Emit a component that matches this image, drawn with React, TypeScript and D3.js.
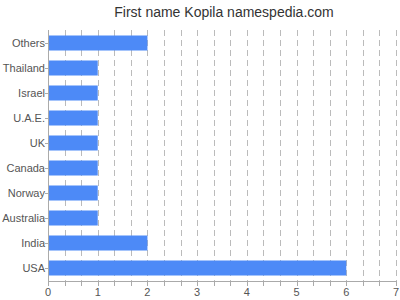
import React from 'react'
import * as d3 from 'd3'

const countries: string[] = ['Others', 'Thailand', 'Israel', 'U.A.E.', 'UK', 'Canada', 'Norway', 'Australia', 'India', 'USA']
const counts: number[] = [2, 1, 1, 1, 1, 1, 1, 1, 2, 6]
const xTicks: number[] = [0, 1, 2, 3, 4, 5, 6, 7]
const title = 'First name Kopila namespedia.com'

const width = 400
const height = 300
const left = 48
const right = 396
const top = 30.5
const bottom = 280.5
const font = 'Liberation Sans, Arial, sans-serif'

/**
 * Horizontal bar chart of name counts by country
 */
const App = () => {
    const x = d3.scaleLinear().domain([0, 7]).range([left, right])
    const y = d3.scaleBand<string>().domain(countries).range([top, bottom]).paddingInner(0.4).paddingOuter(0.2)
    // grid every third of a unit
    const grid = d3.range(1, 22).map((i) => i / 3)

    return (
        <svg width={width} height={height} style={{ position: 'absolute', left: 0, top: 0 }}>
            <rect width={width} height={height} fill='#fff' />
            <text x={224} y={17} textAnchor='middle' fontFamily={font} fontSize={14} fill='#333'>{title}</text>

            {grid.map((g, i) => (
                <line key={i} x1={Math.round(x(g)) + 0.5} x2={Math.round(x(g)) + 0.5} y1={30} y2={281}
                    stroke='#bbb' strokeDasharray='6,4' />
            ))}

            {countries.map((c, i) => (
                <rect key={c} x={left + 1} y={y(c)} width={x(counts[i]) - left - 1} height={y.bandwidth()} fill='#4d8af7' />
            ))}

            {/* y axis */}
            <line x1={left + 0.5} x2={left + 0.5} y1={30} y2={281.5} stroke='#aaa' />
            {countries.map((c) => (
                <g key={c} transform={`translate(0, ${y(c)! + y.bandwidth() / 2})`}>
                    <line x1={left - 3} x2={left} y1={0.5} y2={0.5} stroke='#aaa' />
                    <text x={left - 3} dy='0.35em' textAnchor='end' fontFamily={font} fontSize={11} fill='#555'>{c}</text>
                </g>
            ))}

            {/* x axis */}
            <line x1={left} x2={right + 1} y1={281.5} y2={281.5} stroke='#aaa' />
            {[0, ...grid].map((g, i) => (
                <line key={i} x1={Math.round(x(g)) + 0.5} x2={Math.round(x(g)) + 0.5} y1={281.5} y2={286} stroke='#aaa' />
            ))}
            {xTicks.map((t) => (
                <text key={t} x={x(t)} y={296} textAnchor='middle' fontFamily={font} fontSize={11} fill='#555'>{t}</text>
            ))}
        </svg>
    )
}

export default App
